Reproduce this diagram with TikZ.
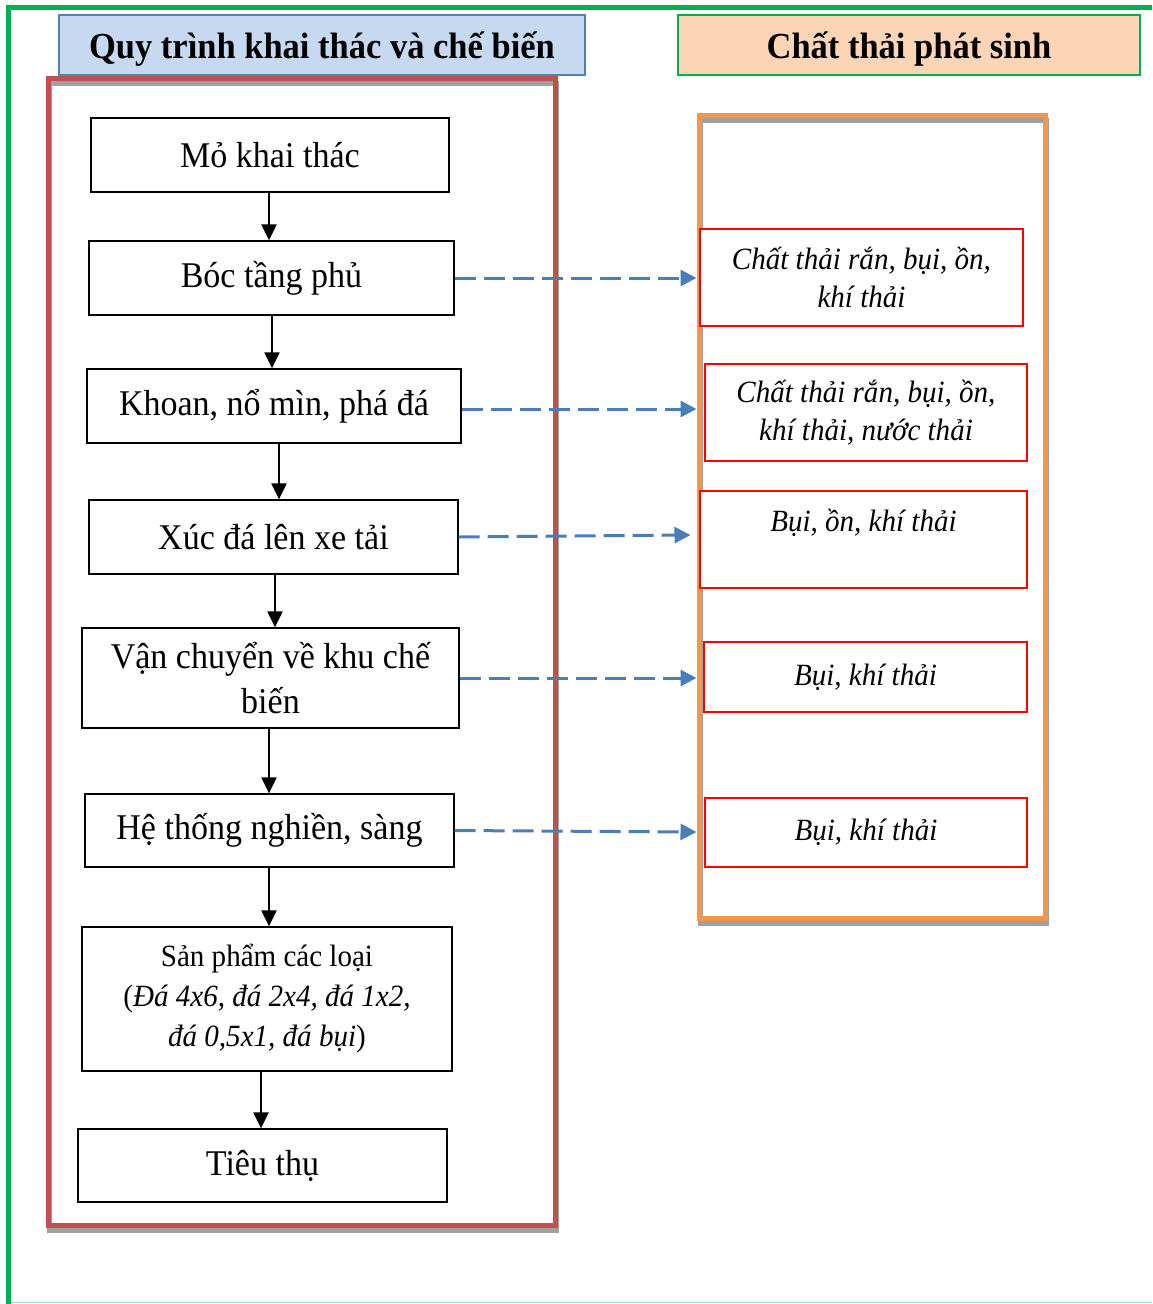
\documentclass[tikz,border=0pt]{standalone}
\usepackage{fontspec}
\setmainfont{Liberation Serif}[FakeStretch=0.94]
\usetikzlibrary{arrows.meta}
\definecolor{gframe}{HTML}{00B050}
\definecolor{gthin}{HTML}{A8DDB9}
\definecolor{redframe}{HTML}{C0504D}
\definecolor{orframe}{HTML}{F79646}
\definecolor{shadowgray}{HTML}{A0A0A0}
\definecolor{titleblue}{HTML}{C6D9F1}
\definecolor{titleblueb}{HTML}{4F81BD}
\definecolor{titlepeach}{HTML}{FBD5B5}
\definecolor{dashblue}{HTML}{4A7EBB}
\definecolor{wastered}{HTML}{FF0000}
\begin{document}
\begin{tikzpicture}[x=1pt,y=-1pt,
  stepbox/.style={draw=black,line width=1.3pt,fill=white,inner sep=0pt,align=center,
    font=\fontsize{36.2}{45}\selectfont},
  smallbox/.style={stepbox,font=\fontsize{30.9}{40}\selectfont},
  wastebox/.style={draw=wastered,line width=1.3pt,fill=white,inner sep=0pt,align=center,
    font=\fontsize{30.9}{38}\selectfont\itshape},
  titlebox/.style={inner sep=0pt,line width=2pt,align=center,
    font=\fontsize{36.7}{40}\selectfont\bfseries},
  bigframe/.style={line width=5pt,inner sep=0pt},
  shadowframe/.style={draw=shadowgray,line width=5pt,inner sep=0pt},
  flow/.style={line width=2.2pt,-{Triangle[length=16pt,width=15pt]}},
  waste/.style={dashblue,line width=3pt,dash pattern=on 21pt off 8pt,
    -{Triangle[length=16pt,width=16pt]}}
]
\useasboundingbox (0,0) rectangle (1152,1304);
\fill[white] (0,0) rectangle (1152,1304);

% outer green frame
\draw[gthin,line width=1.5pt] (8,1302.5) -- (1152,1302.5);
\draw[gframe,line width=5pt] (8,1304) -- (8,7) -- (1152,7);

% titles
\node[titlebox,draw=titleblueb,fill=titleblue,minimum width=526pt,minimum height=60pt]
  (t1) at (322,45) {\raisebox{-13pt}[0pt][0pt]{Quy trình khai thác và chế biến}};
\node[titlebox,draw=gframe,fill=titlepeach,minimum width=462pt,minimum height=60pt]
  (t2) at (909,45) {\raisebox{-13pt}[0pt][0pt]{Chất thải phát sinh}};

% frames with shadows
\node[shadowframe,minimum width=507pt,minimum height=1147pt] (lsh) at (302.5,656.5) {};
\node[bigframe,draw=redframe,minimum width=507pt,minimum height=1147pt] (lfr) at (301.5,651.5) {};
\node[shadowframe,minimum width=346.5pt,minimum height=803pt] (osh) at (873.25,521.5) {};
\node[bigframe,draw=orframe,minimum width=346.5pt,minimum height=803pt] (ofr) at (872.25,516.5) {};

% process steps
\node[stepbox,minimum width=358pt,minimum height=74pt] (m1) at (270,155) {Mỏ khai thác};
\node[stepbox,minimum width=365pt,minimum height=74pt] (m2) at (271.5,278) {Bóc tầng phủ};
\node[stepbox,minimum width=374pt,minimum height=74pt] (m3) at (274,406) {Khoan, nổ mìn, phá đá};
\node[stepbox,minimum width=369pt,minimum height=74pt] (m4) at (273.5,537) {Xúc đá lên xe tải};
\node[stepbox,minimum width=377pt,minimum height=100pt] (m5) at (270.5,678) {Vận chuyển về khu chế\\biến};
\node[stepbox,minimum width=369pt,minimum height=73pt] (m6) at (269.5,830.5) {Hệ thống nghiền, sàng};
\node[smallbox,minimum width=370pt,minimum height=144pt] (m7) at (267,999)
  {Sản phẩm các loại\\(\textit{Đá 4x6, đá 2x4, đá 1x2,}\\\textit{đá 0,5x1, đá bụi})};
\node[stepbox,minimum width=369pt,minimum height=73pt] (m8) at (262.5,1165.5) {Tiêu thụ};

% waste boxes
\node[wastebox,minimum width=323pt,minimum height=97pt] (r1) at (861.5,277.5) {Chất thải rắn, bụi, ồn,\\khí thải};
\node[wastebox,minimum width=322pt,minimum height=97pt] (r2) at (866,412.5) {Chất thải rắn, bụi, ồn,\\khí thải, nước thải};
\node[wastebox,minimum width=327pt,minimum height=97pt] (r3) at (863.5,539.5) {Bụi, ồn, khí thải\\\mbox{}};
\node[wastebox,minimum width=323pt,minimum height=70pt] (r4) at (865.5,677) {Bụi, khí thải};
\node[wastebox,minimum width=322pt,minimum height=69pt] (r5) at (866,832.5) {Bụi, khí thải};

% flow arrows
\coordinate (x1) at (269,0);
\coordinate (x2) at (272,0);
\coordinate (x3) at (279,0);
\coordinate (x4) at (275,0);
\coordinate (x5) at (269,0);
\coordinate (x6) at (269,0);
\coordinate (x7) at (261,0);
\draw[flow] (m1.south -| x1) -- (m2.north -| x1);
\draw[flow] (m2.south -| x2) -- (m3.north -| x2);
\draw[flow] (m3.south -| x3) -- (m4.north -| x3);
\draw[flow] (m4.south -| x4) -- (m5.north -| x4);
\draw[flow] (m5.south -| x5) -- (m6.north -| x5);
\draw[flow] (m6.south -| x6) -- (m7.north -| x6);
\draw[flow] (m7.south -| x7) -- (m8.north -| x7);

% waste arrows
\draw[waste] (m2.east) -- (m2.east -| ofr.west);
\draw[waste] ([yshift=-3pt]m3.east) -- ([yshift=-3pt]m3.east -| ofr.west);
\draw[waste] (m4.east) -- ([xshift=-6pt,yshift=2pt]m4.east -| ofr.west);
\draw[waste] (m5.east) -- (m5.east -| ofr.west);
\draw[waste] (m6.east) -- ([yshift=-1.5pt]m6.east -| ofr.west);
\end{tikzpicture}
\end{document}
